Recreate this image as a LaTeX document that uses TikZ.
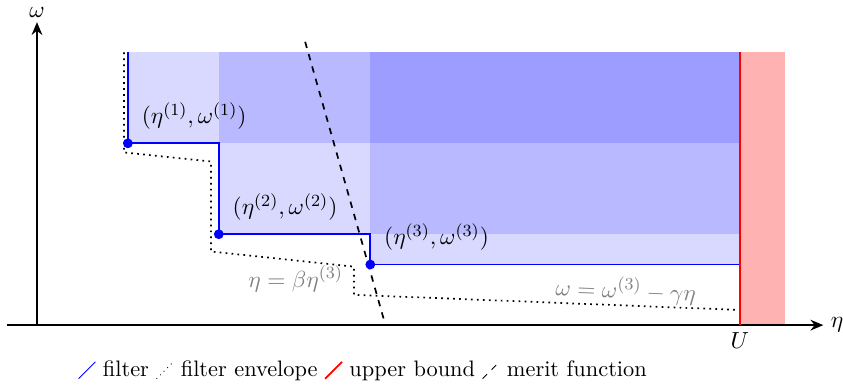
\documentclass[tikz,border=0pt]{standalone}
\usepackage{xcolor}
\usepackage{tikz}
\usetikzlibrary{positioning,arrows.meta}

\begin{document}
\begin{tikzpicture}[
    x=0.5cm, y=0.5cm,
    axis/.style={very thick,-{Stealth[length=6pt,width=5pt]}},
    region/.style={fill=blue, fill opacity=0.15},
    filter/.style={thick, blue},
    envelope/.style={thick, dotted},
    bound/.style={thick, red},
    merit/.style={thick, dashed},
    pt/.style={circle, fill=blue, inner sep=0pt, minimum size=4.6pt},
    lbl/.style={font=\fontsize{11}{13}\selectfont},
    hint/.style={lbl, text=gray},
    glyph/.style={inner sep=0pt, minimum size=7.5pt},
    legtext/.style={font=\fontsize{10.5}{12}\selectfont, text height=1.5ex, text depth=0.25ex}
]
\useasboundingbox (-1.22,-2.15) rectangle (26.6,10.73);

% Filter entries
\coordinate (e1) at (3,6);
\coordinate (e2) at (6,3);
\coordinate (e3) at (11,2);
\coordinate (u0) at (23.2,0);
\coordinate (u9) at (23.2,9);

% Dominated regions
\fill[region] (e1) rectangle (u9);
\fill[region] (e2) rectangle (u9);
\fill[region] (e3) rectangle (u9);
\fill[red!30] (u0) rectangle (24.7,9);

% Axes
\coordinate (xs) at (-1,0);
\coordinate (xe) at (25.95,0);
\coordinate (o) at (0,0);
\coordinate (ye) at (0,10);
\draw[axis] (xs) -- (xe);
\draw[axis] (o) -- (ye);
\node (etalbl) [lbl, right] at (xe) {$\eta$};
\node (omegalbl) [lbl, above, inner sep=2pt] at (ye) {$\omega$};
\node (ulbl) [lbl, below] at (u0) {$U$};

% Envelope
\draw[envelope] (2.87,9) -- (2.87,5.7) -- (5.74,5.4) -- (5.74,2.43) -- (10.46,1.93) -- (10.46,1.0) -- (23.2,0.5);

% Filter and upper bound
\draw[filter] (3,9) -- (e1) -- (6,6) -- (e2) -- (11,3) -- (e3) -- (23.2,2);
\draw[bound] (u0) -- (u9);

% Merit function
\draw[merit] (8.85,9.35) -- (11.5,0);

% Points and labels
\node (p1) [pt] at (e1) {};
\node (p2) [pt] at (e2) {};
\node (p3) [pt] at (e3) {};
\node (l1) [lbl, above right=3pt and 3pt of p1.center] {$(\eta^{(1)},\omega^{(1)})$};
\node (l2) [lbl, above right=3pt and 3pt of p2.center] {$(\eta^{(2)},\omega^{(2)})$};
\node (l3) [lbl, above right=3pt and 3pt of p3.center] {$(\eta^{(3)},\omega^{(3)})$};
\node (lbeta) [hint] at (8.54,1.52) {$\eta=\beta\eta^{(3)}$};
\node (lgamma) [hint, rotate=-2.3] at (19.43,1.16) {$\omega=\omega^{(3)}-\gamma\eta$};

% Legend
\node (g1) [glyph] at (1.65,-1.49) {};
\draw[blue] (g1.south west) -- (g1.north east);
\node (t1) [legtext, right=0pt of g1] {filter};
\node (g2) [glyph, right=0pt of t1] {};
\draw[dotted] (g2.south west) -- (g2.north east);
\node (t2) [legtext, right=0pt of g2] {filter envelope};
\node (g3) [glyph, right=0pt of t2] {};
\draw[bound] (g3.south west) -- (g3.north east);
\node (t3) [legtext, right=0pt of g3] {upper bound};
\node (g4) [glyph, right=0pt of t3] {};
\draw[dashed] (g4.south west) -- (g4.north east);
\node (t4) [legtext, right=0pt of g4] {merit function};

\end{tikzpicture}
\end{document}
